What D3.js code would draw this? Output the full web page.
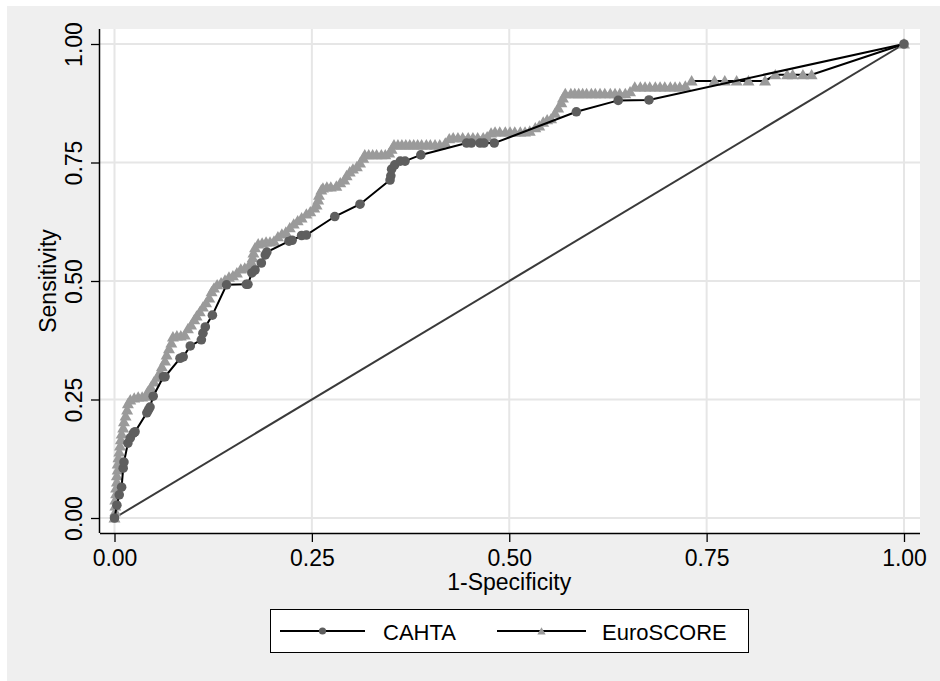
<!DOCTYPE html>
<html>

<head>
  <meta charset='utf-8'>
  <style>
    body { margin: 0; background: #fff; }
    text { font-family: Arial, 'Liberation Sans', sans-serif; fill: #000; }
  </style>
  <script src='https://cdnjs.cloudflare.com/ajax/libs/d3/7.8.5/d3.min.js'></script>
</head>

<body>

  <script type='module'>

    let [width, height] = [940, 681]

    // CAHTA: 1-specificity / sensitivity
    let cahtaX = [0, 0.003, 0.006, 0.009, 0.011, 0.012, 0.017, 0.020, 0.024, 0.026, 0.041, 0.043, 0.045, 0.049,
      0.062, 0.064, 0.083, 0.087, 0.096, 0.110, 0.112, 0.115, 0.124, 0.142, 0.167, 0.169, 0.174, 0.178, 0.186,
      0.191, 0.193, 0.221, 0.225, 0.237, 0.243, 0.279, 0.311, 0.349, 0.350, 0.351, 0.355, 0.362, 0.368, 0.388,
      0.446, 0.452, 0.463, 0.468, 0.481, 0.585, 0.638, 0.677, 1]
    let cahtaY = [0, 0.027, 0.049, 0.065, 0.105, 0.118, 0.158, 0.169, 0.179, 0.182, 0.222, 0.228, 0.234, 0.257,
      0.298, 0.298, 0.337, 0.340, 0.363, 0.376, 0.390, 0.403, 0.428, 0.492, 0.493, 0.493, 0.517, 0.523, 0.538,
      0.555, 0.561, 0.584, 0.586, 0.596, 0.597, 0.636, 0.662, 0.713, 0.722, 0.736, 0.745, 0.753, 0.753, 0.766,
      0.791, 0.791, 0.791, 0.791, 0.791, 0.857, 0.881, 0.882, 1]

    // EuroSCORE
    let euroX = [0, 0.001, 0.001, 0.001, 0.002, 0.002, 0.003, 0.003, 0.004, 0.004, 0.005, 0.006, 0.007, 0.008,
      0.009, 0.011, 0.012, 0.014, 0.016, 0.017, 0.020, 0.025, 0.030, 0.035, 0.040, 0.042, 0.046, 0.050, 0.054,
      0.058, 0.060, 0.064, 0.066, 0.069, 0.072, 0.074, 0.079, 0.084, 0.089, 0.093, 0.097, 0.101, 0.104, 0.108,
      0.112, 0.116, 0.120, 0.123, 0.126, 0.130, 0.135, 0.140, 0.145, 0.150, 0.155, 0.160, 0.165, 0.170, 0.174,
      0.175, 0.176, 0.178, 0.182, 0.187, 0.192, 0.197, 0.202, 0.207, 0.212, 0.217, 0.222, 0.227, 0.232, 0.237,
      0.243, 0.248, 0.253, 0.256, 0.258, 0.259, 0.262, 0.264, 0.269, 0.274, 0.281, 0.286, 0.291, 0.294, 0.298,
      0.302, 0.307, 0.311, 0.315, 0.317, 0.322, 0.327, 0.332, 0.338, 0.343, 0.348, 0.351, 0.354, 0.359, 0.364,
      0.369, 0.374, 0.379, 0.384, 0.389, 0.395, 0.400, 0.406, 0.412, 0.419, 0.424, 0.429, 0.435, 0.441, 0.448,
      0.454, 0.460, 0.467, 0.472, 0.477, 0.482, 0.488, 0.495, 0.501, 0.507, 0.514, 0.520, 0.526, 0.533, 0.538,
      0.543, 0.548, 0.553, 0.558, 0.562, 0.566, 0.568, 0.571, 0.578, 0.583, 0.588, 0.593, 0.598, 0.604, 0.609,
      0.615, 0.621, 0.628, 0.634, 0.640, 0.647, 0.653, 0.659, 0.666, 0.672, 0.678, 0.685, 0.691, 0.697, 0.704,
      0.710, 0.716, 0.723, 0.731, 0.760, 0.773, 0.788, 0.803, 0.824, 0.837, 0.852, 0.859, 0.872, 0.883, 1]
    let euroY = [0, 0.013, 0.025, 0.038, 0.051, 0.063, 0.076, 0.089, 0.101, 0.114, 0.127, 0.139, 0.152, 0.165,
      0.177, 0.190, 0.203, 0.215, 0.228, 0.241, 0.249, 0.253, 0.255, 0.255, 0.257, 0.266, 0.276, 0.287, 0.297,
      0.308, 0.319, 0.331, 0.344, 0.357, 0.369, 0.382, 0.384, 0.384, 0.386, 0.399, 0.407, 0.418, 0.426, 0.435,
      0.445, 0.454, 0.464, 0.477, 0.485, 0.492, 0.496, 0.502, 0.508, 0.511, 0.517, 0.525, 0.527, 0.532, 0.538,
      0.549, 0.559, 0.570, 0.578, 0.580, 0.582, 0.582, 0.584, 0.593, 0.599, 0.603, 0.612, 0.620, 0.627, 0.633,
      0.641, 0.646, 0.654, 0.660, 0.671, 0.681, 0.692, 0.696, 0.698, 0.698, 0.700, 0.707, 0.713, 0.722, 0.730,
      0.736, 0.741, 0.749, 0.759, 0.766, 0.766, 0.766, 0.766, 0.766, 0.766, 0.770, 0.778, 0.787, 0.787, 0.787,
      0.787, 0.787, 0.787, 0.787, 0.787, 0.787, 0.787, 0.787, 0.787, 0.791, 0.800, 0.802, 0.802, 0.802, 0.802,
      0.802, 0.802, 0.802, 0.804, 0.812, 0.814, 0.814, 0.814, 0.814, 0.814, 0.814, 0.814, 0.816, 0.823, 0.827,
      0.835, 0.840, 0.842, 0.854, 0.865, 0.876, 0.886, 0.895, 0.895, 0.895, 0.895, 0.895, 0.895, 0.895, 0.895,
      0.895, 0.895, 0.895, 0.895, 0.895, 0.895, 0.899, 0.909, 0.909, 0.909, 0.909, 0.909, 0.909, 0.909, 0.909,
      0.909, 0.909, 0.911, 0.922, 0.922, 0.922, 0.922, 0.922, 0.922, 0.935, 0.935, 0.935, 0.935, 0.935, 1]

    let ticks = [0, 0.25, 0.5, 0.75, 1]
    let series = [
      { name: 'EuroSCORE', xs: euroX, ys: euroY },
      { name: 'CAHTA', xs: cahtaX, ys: cahtaY }
    ]

    let plot = { left: 100, right: 920, top: 29, bottom: 533 }
    let x = d3.scaleLinear([0, 1], [114.5, 904])
    let y = d3.scaleLinear([0, 1], [518, 44])

    let svg = d3.select('body')
      .append('svg')
      .attr('width', width)
      .attr('height', height)

    // graph region
    svg.append('rect')
      .attr('x', 7).attr('y', 6)
      .attr('width', width - 7).attr('height', height - 6)
      .attr('fill', '#efefef')

    // plot region
    svg.append('rect')
      .attr('x', plot.left).attr('y', plot.top)
      .attr('width', plot.right - plot.left).attr('height', plot.bottom - plot.top)
      .attr('fill', '#fff')

    let grid = svg.append('g')
      .attr('stroke', '#e6e6e6')
      .attr('stroke-width', 2)
    grid.selectAll('.gx').data(ticks).enter().append('line')
      .attr('x1', d => x(d)).attr('x2', d => x(d))
      .attr('y1', plot.top).attr('y2', plot.bottom)
    grid.selectAll('.gy').data(ticks).enter().append('line')
      .attr('y1', d => y(d)).attr('y2', d => y(d))
      .attr('x1', plot.left).attr('x2', plot.right)

    // axes
    let xAxis = g => g
      .attr('transform', `translate(0,${plot.bottom})`)
      .call(d3.axisBottom(x).tickValues(ticks).tickFormat(d3.format('.2f')).tickSize(9).tickPadding(8))
      .call(g => g.select('.domain').attr('d', `M${plot.left},0.5H${plot.right}`).attr('stroke-width', 1.5))
      .call(g => g.selectAll('.tick line').attr('stroke-width', 1.3))
      .call(g => g.selectAll('.tick text').attr('font-size', 23).attr('font-family', 'Arial, Liberation Sans'))

    let yAxis = g => g
      .attr('transform', `translate(${plot.left},0)`)
      .call(d3.axisLeft(y).tickValues(ticks).tickFormat(d3.format('.2f')).tickSize(9).tickPadding(0))
      .call(g => g.select('.domain').attr('d', `M-0.5,${plot.top}V${plot.bottom}`).attr('stroke-width', 1.5))
      .call(g => g.selectAll('.tick line').attr('stroke-width', 1.3))
      .call(g => g.selectAll('.tick text')
        .attr('font-size', 23).attr('font-family', 'Arial, Liberation Sans')
        .attr('x', null).attr('dy', null)
        .attr('text-anchor', 'middle')
        .attr('transform', 'translate(-18,0) rotate(-90)'))

    svg.append('g').call(xAxis)
    svg.append('g').call(yAxis)

    svg.append('text')
      .attr('x', x(0.5)).attr('y', 590)
      .attr('text-anchor', 'middle')
      .attr('font-size', 23)
      .text('1-Specificity')

    svg.append('text')
      .attr('transform', `translate(56,${(plot.top + plot.bottom) / 2}) rotate(-90)`)
      .attr('text-anchor', 'middle')
      .attr('font-size', 23)
      .text('Sensitivity')

    // reference line
    svg.append('line')
      .attr('x1', x(0)).attr('y1', y(0))
      .attr('x2', x(1)).attr('y2', y(1))
      .attr('stroke', '#3a3a3a')
      .attr('stroke-width', 2)

    let line = d3.line().x(d => x(d[0])).y(d => y(d[1]))
    let tri = d3.symbol(d3.symbolTriangle, 62)
    let triSmall = d3.symbol(d3.symbolTriangle, 30)

    series.forEach(s => {
      let pts = s.xs.map((v, i) => [v, s.ys[i]])
      svg.append('path')
        .attr('d', line(pts))
        .attr('fill', 'none')
        .attr('stroke', '#000')
        .attr('stroke-width', 2)
      if (s.name === 'CAHTA') {
        svg.append('g').selectAll('circle').data(pts).enter().append('circle')
          .attr('cx', d => x(d[0])).attr('cy', d => y(d[1]))
          .attr('r', 4.8)
          .attr('fill', '#5e5e5e')
      } else {
        svg.append('g').selectAll('path').data(pts).enter().append('path')
          .attr('transform', d => `translate(${x(d[0])},${y(d[1]) + 1})`)
          .attr('d', tri)
          .attr('fill', '#9a9a9a')
      }
    })

    // legend
    let legend = svg.append('g')
    legend.append('rect')
      .attr('x', 270.5).attr('y', 609.5)
      .attr('width', 478).attr('height', 43)
      .attr('fill', '#fff')
      .attr('stroke', '#000')
      .attr('stroke-width', 1)
    let items = [
      { name: 'CAHTA', x0: 280, x1: 365, tx: 383 },
      { name: 'EuroSCORE', x0: 497, x1: 586, tx: 602 }
    ]
    items.forEach(it => {
      legend.append('line')
        .attr('x1', it.x0).attr('x2', it.x1)
        .attr('y1', 631).attr('y2', 631)
        .attr('stroke', '#000').attr('stroke-width', 2)
      let cx = (it.x0 + it.x1) / 2
      if (it.name === 'CAHTA') {
        legend.append('circle').attr('cx', cx).attr('cy', 631).attr('r', 3.6).attr('fill', '#5e5e5e')
      } else {
        legend.append('path').attr('transform', `translate(${cx},632)`).attr('d', triSmall).attr('fill', '#9a9a9a')
      }
      legend.append('text')
        .attr('x', it.tx).attr('y', 640)
        .attr('font-size', 22)
        .text(it.name)
    })
  </script>
</body>

</html>
